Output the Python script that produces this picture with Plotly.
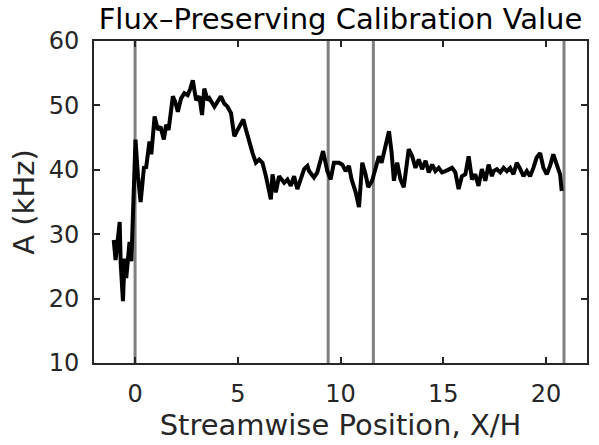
import plotly.graph_objects as go

# Streamwise position X/H and calibration value A (kHz)
x_pos = [-1.04, -0.95, -0.75, -0.70, -0.59, -0.51, -0.43, -0.35, -0.27, -0.18, -0.10,
         0.02, 0.14, 0.27, 0.43, 0.54, 0.70, 0.79, 0.95, 1.11, 1.24, 1.40, 1.51, 1.63,
         1.84, 1.95, 2.08, 2.24, 2.40, 2.56, 2.69, 2.81, 2.97, 3.13, 3.26, 3.37, 3.53,
         3.62, 3.86, 4.18, 4.34, 4.50, 4.67, 4.83, 4.99, 5.16, 5.27, 5.40, 5.56, 5.72,
         5.88, 6.04, 6.20, 6.37, 6.61, 6.69, 6.85, 7.01, 7.26, 7.42, 7.58, 7.74, 7.90,
         8.07, 8.23, 8.39, 8.47, 8.71, 8.87, 9.15, 9.36, 9.52, 9.68, 9.93, 10.09, 10.25,
         10.41, 10.54, 10.74, 10.90, 11.06, 11.22, 11.35, 11.54, 11.71, 11.87, 12.00,
         12.19, 12.36, 12.49, 12.60, 12.76, 12.92, 13.08, 13.32, 13.49, 13.65, 13.81,
         13.97, 14.14, 14.30, 14.46, 14.62, 14.78, 14.94, 15.11, 15.27, 15.43, 15.59,
         15.75, 15.91, 16.08, 16.24, 16.40, 16.56, 16.72, 16.88, 17.05, 17.21, 17.37,
         17.45, 17.61, 17.78, 17.94, 18.10, 18.26, 18.42, 18.58, 18.75, 18.91, 19.07,
         19.23, 19.39, 19.55, 19.72, 19.88, 20.04, 20.20, 20.36, 20.53, 20.69, 20.77]
a_khz = [29.1, 26.0, 31.9, 25.5, 19.6, 26.2, 23.2, 27.0, 28.8, 25.8, 32.9,
         44.7, 39.0, 35.0, 40.3, 40.4, 44.4, 42.4, 48.3, 46.2, 46.7, 44.7, 47.0, 46.2,
         51.4, 50.6, 49.0, 51.1, 51.9, 51.6, 52.6, 53.9, 50.8, 51.4, 48.5, 52.6, 50.8,
         51.1, 49.8, 51.4, 50.3, 49.8, 48.8, 45.2, 46.2, 47.3, 47.8, 46.2, 44.2, 42.6,
         41.1, 41.6, 41.1, 39.0, 35.4, 39.3, 36.5, 39.0, 38.0, 38.5, 37.5, 39.0, 37.0,
         38.5, 40.1, 40.6, 39.8, 38.8, 39.6, 42.9, 39.8, 38.5, 41.1, 41.1, 40.8, 39.8,
         40.6, 38.5, 36.5, 34.2, 41.1, 39.3, 37.3, 38.3, 40.1, 42.1, 41.1,
         43.4, 46.0, 42.6, 38.3, 41.1, 38.5, 37.3, 43.2, 42.1, 40.3, 41.6,
         40.1, 41.4, 39.6, 40.8, 39.8, 40.3, 39.6, 39.8, 40.1, 40.3, 39.6,
         37.0, 39.0, 39.3, 42.1, 38.5, 39.3, 37.5, 40.1, 38.3, 40.8, 39.0,
         39.8, 40.1, 39.6, 40.3, 39.8, 40.3, 39.3, 41.1, 40.1, 39.0, 39.8,
         39.0, 40.3, 41.9, 42.6, 40.3, 39.3, 40.6, 42.4, 40.8, 39.3, 36.7]

# Vertical reference positions
vlines_x = [0.0, 9.4, 11.6, 20.88]

x_ticks = [0, 5, 10, 15, 20]
y_ticks = [10, 20, 30, 40, 50, 60]

FONT = "DejaVu Sans"
AX = "#262626"

fig = go.Figure()
for xv in vlines_x:
    fig.add_trace(go.Scatter(x=[xv, xv], y=[10, 60], mode="lines",
                             line=dict(color="#808080", width=3),
                             showlegend=False, hoverinfo="skip"))
fig.add_trace(go.Scatter(x=x_pos, y=a_khz, mode="lines",
                         line=dict(color="black", width=4),
                         showlegend=False))

fig.update_layout(
    width=599, height=445,
    margin=dict(l=94, r=10, t=41, b=82),
    paper_bgcolor="white", plot_bgcolor="white",
    font=dict(family=FONT, color=AX),
    title=dict(text="Flux–Preserving Calibration Value",
               font=dict(family=FONT, size=29, color="black"),
               x=0.5, xref="paper", xanchor="center",
               y=1 - 19 / 445, yref="container", yanchor="middle"),
    xaxis=dict(range=[-2, 22], tickvals=x_ticks, ticks="inside", ticklen=6,
               tickwidth=1.5, tickcolor=AX, showline=True, linecolor=AX,
               linewidth=2, mirror="ticks", showgrid=False, zeroline=False,
               tickfont=dict(size=24, color=AX), ticklabelstandoff=8,
               title=dict(text="Streamwise Position, X/H",
                          font=dict(size=29, color=AX), standoff=4)),
    yaxis=dict(range=[10, 60], tickvals=y_ticks, ticks="inside", ticklen=6,
               tickwidth=1.5, tickcolor=AX, showline=True, linecolor=AX,
               linewidth=2, mirror="ticks", showgrid=False, zeroline=False,
               tickfont=dict(size=24, color=AX), ticklabelstandoff=8,
               title=dict(text="A (kHz)", font=dict(size=29, color=AX),
                          standoff=6)),
)

fig.write_html("out.html")
